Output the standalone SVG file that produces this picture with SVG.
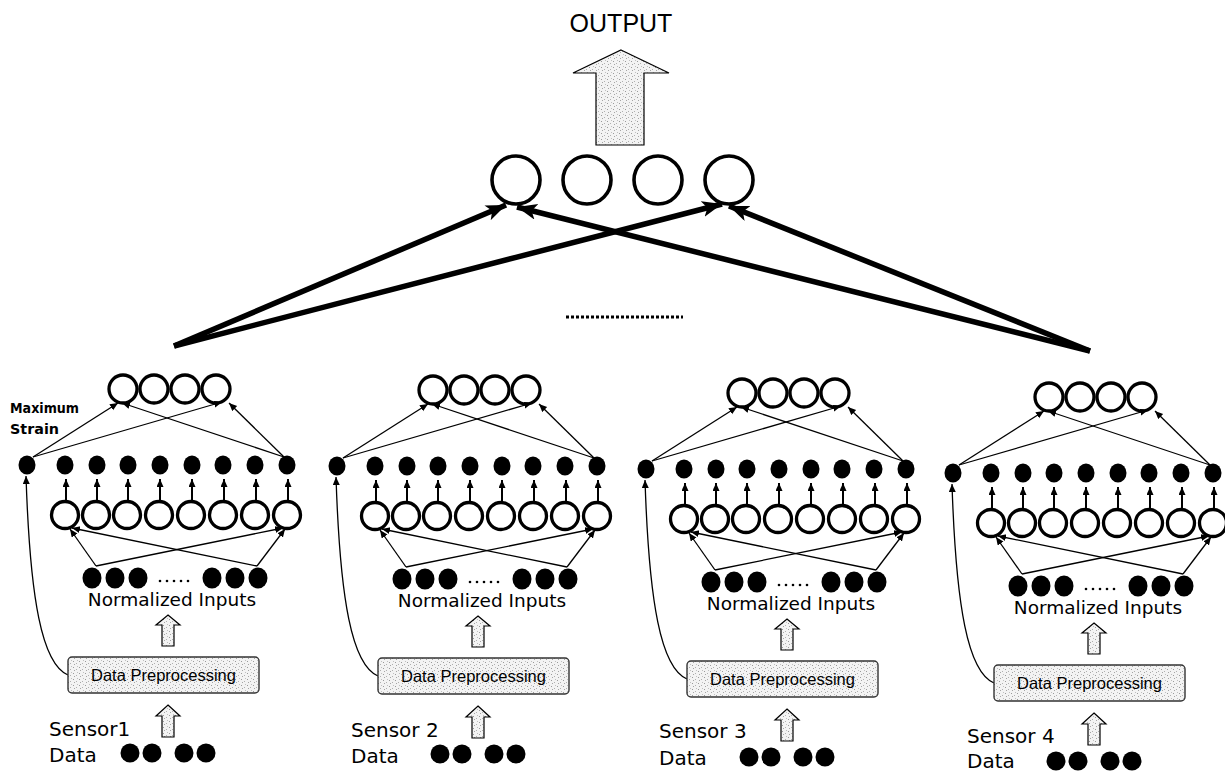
<svg xmlns="http://www.w3.org/2000/svg" xmlns:xlink="http://www.w3.org/1999/xlink" width="1225" height="772" viewBox="0 0 1225 772">
  <style>
    .ring { fill: #fff; stroke: #000; stroke-width: 3.3; }
    .ring-big { fill: #fff; stroke: #000; stroke-width: 3.6; }
    .dot { fill: #000; }
    .thin { stroke: #000; stroke-width: 1.3; fill: none; }
    .stem { stroke: #000; stroke-width: 2; fill: none; }
    .heavy { stroke: #000; stroke-width: 5.5; fill: none; stroke-linecap: butt; }
    .hand { font-family: "DejaVu Sans", "Liberation Sans", sans-serif; fill: #000; }
    .plain { font-family: "Liberation Sans", Arial, sans-serif; fill: #000; }
    .hollow { fill: url(#stipple); stroke: #000; stroke-width: 1.2; }
    .box { fill: url(#stipple); stroke: #333; stroke-width: 1.4; }
  </style>
  <defs>
    <pattern id="stipple" width="6" height="6" patternUnits="userSpaceOnUse">
      <rect width="6" height="6" fill="#f3f3f3"/>
      <rect x="1" y="1" width="1" height="1" fill="#9a9a9a"/>
      <rect x="4" y="3" width="1" height="1" fill="#b0b0b0"/>
      <rect x="2" y="4" width="1" height="1" fill="#a5a5a5"/>
      <rect x="5" y="0" width="1" height="1" fill="#c0c0c0"/>
    </pattern>
    <marker id="head-big" markerUnits="userSpaceOnUse" markerWidth="22" markerHeight="18" refX="20" refY="8" orient="auto">
      <path d="M0,0 L20,8 L0,16 L5,8 Z" fill="#000"/>
    </marker>
    <marker id="head-small" markerUnits="userSpaceOnUse" markerWidth="9" markerHeight="8" refX="8" refY="3.5" orient="auto">
      <path d="M0,0 L8,3.5 L0,7 Z" fill="#000"/>
    </marker>

    <!-- one sensor network: input layer, hidden layers, local outputs, preprocessing -->
    <g id="sensor-net">
      <!-- local output neurons -->
      <g class="layer-out">
        <circle class="ring" cx="123" cy="389" r="14"/>
        <circle class="ring" cx="154" cy="389" r="14"/>
        <circle class="ring" cx="185" cy="389" r="14"/>
        <circle class="ring" cx="216" cy="389" r="14"/>
      </g>
      <!-- activated hidden units (first one carries maximum strain) -->
      <g class="layer-act">
        <ellipse class="dot" cx="27" cy="465" rx="8.5" ry="9.5"/>
        <ellipse class="dot" cx="65" cy="465" rx="8.5" ry="9.5"/>
        <ellipse class="dot" cx="97" cy="465" rx="8.5" ry="9.5"/>
        <ellipse class="dot" cx="128" cy="465" rx="8.5" ry="9.5"/>
        <ellipse class="dot" cx="160" cy="465" rx="8.5" ry="9.5"/>
        <ellipse class="dot" cx="192" cy="465" rx="8.5" ry="9.5"/>
        <ellipse class="dot" cx="223" cy="465" rx="8.5" ry="9.5"/>
        <ellipse class="dot" cx="255" cy="465" rx="8.5" ry="9.5"/>
        <ellipse class="dot" cx="287" cy="465" rx="8.5" ry="9.5"/>
      </g>
      <!-- hidden neurons -->
      <g class="layer-hidden">
        <circle class="ring" cx="65" cy="515" r="13.5"/>
        <circle class="ring" cx="96" cy="515" r="13.5"/>
        <circle class="ring" cx="127" cy="515" r="13.5"/>
        <circle class="ring" cx="159" cy="515" r="13.5"/>
        <circle class="ring" cx="191" cy="515" r="13.5"/>
        <circle class="ring" cx="223" cy="515" r="13.5"/>
        <circle class="ring" cx="255" cy="515" r="13.5"/>
        <circle class="ring" cx="287" cy="515" r="13.5"/>
      </g>
      <!-- normalized input units -->
      <g class="layer-in">
        <ellipse class="dot" cx="92" cy="578" rx="9.5" ry="10.5"/>
        <ellipse class="dot" cx="115" cy="578" rx="9.5" ry="10.5"/>
        <ellipse class="dot" cx="138" cy="578" rx="9.5" ry="10.5"/>
        <circle class="dot" cx="160" cy="581" r="1.3"/>
        <circle class="dot" cx="167" cy="581" r="1.3"/>
        <circle class="dot" cx="174" cy="581" r="1.3"/>
        <circle class="dot" cx="181" cy="581" r="1.3"/>
        <circle class="dot" cx="188" cy="581" r="1.3"/>
        <ellipse class="dot" cx="212" cy="578" rx="9.5" ry="10.5"/>
        <ellipse class="dot" cx="235" cy="578" rx="9.5" ry="10.5"/>
        <ellipse class="dot" cx="258" cy="578" rx="9.5" ry="10.5"/>
      </g>
      <!-- local connectors -->
      <g class="links">
        <line class="thin" x1="33" y1="457" x2="118" y2="403" marker-end="url(#head-small)"/>
        <line class="thin" x1="33" y1="457" x2="222" y2="402" marker-end="url(#head-small)"/>
        <line class="thin" x1="284" y1="457" x2="122" y2="403" marker-end="url(#head-small)"/>
        <line class="thin" x1="284" y1="457" x2="229" y2="403" marker-end="url(#head-small)"/>
        <line class="stem" x1="66" y1="502" x2="66" y2="479" marker-end="url(#head-small)"/>
        <line class="stem" x1="97" y1="502" x2="97" y2="479" marker-end="url(#head-small)"/>
        <line class="stem" x1="128" y1="502" x2="128" y2="479" marker-end="url(#head-small)"/>
        <line class="stem" x1="160" y1="502" x2="160" y2="479" marker-end="url(#head-small)"/>
        <line class="stem" x1="192" y1="502" x2="192" y2="479" marker-end="url(#head-small)"/>
        <line class="stem" x1="224" y1="502" x2="224" y2="479" marker-end="url(#head-small)"/>
        <line class="stem" x1="256" y1="502" x2="256" y2="479" marker-end="url(#head-small)"/>
        <line class="stem" x1="288" y1="502" x2="288" y2="479" marker-end="url(#head-small)"/>
        <line class="thin" x1="96" y1="566" x2="70" y2="529" marker-end="url(#head-small)"/>
        <line class="thin" x1="96" y1="566" x2="283" y2="528" marker-end="url(#head-small)"/>
        <line class="thin" x1="257" y1="566" x2="72" y2="528" marker-end="url(#head-small)"/>
        <line class="thin" x1="257" y1="566" x2="285" y2="529" marker-end="url(#head-small)"/>
        <path class="thin" d="M68,675 C42,664 30,600 26,476" marker-end="url(#head-small)"/>
      </g>
      <text class="hand" x="172" y="606" font-size="18.5" text-anchor="middle">Normalized Inputs</text>
      <path class="hollow" d="M168,615 L180,625 L174,625 L174,646 L162,646 L162,625 L156,625 Z"/>
      <rect class="box" x="68" y="657" width="191" height="36" rx="4"/>
      <text class="plain" x="163.5" y="681" font-size="16.5" text-anchor="middle">Data Preprocessing</text>
      <path class="hollow" d="M168,705 L180,716 L174,716 L174,737 L162,737 L162,716 L156,716 Z"/>
      <!-- raw sensor samples -->
      <circle class="dot" cx="130" cy="753" r="9.5"/>
      <circle class="dot" cx="152" cy="753" r="9.5"/>
      <circle class="dot" cx="184" cy="753" r="9.5"/>
      <circle class="dot" cx="206" cy="753" r="9.5"/>
    </g>
  </defs>

  <rect width="1225" height="772" fill="#fff"/>

  <!-- fused output layer -->
  <g id="output">
    <text class="plain" x="621" y="32" font-size="25" text-anchor="middle">OUTPUT</text>
    <path class="hollow" d="M621,50 L669,73 L644,73 L644,145 L596,145 L596,73 L573,73 Z"/>
  </g>
  <g id="fusion-1"><circle class="ring-big" cx="516" cy="180" r="24"/></g>
  <g id="fusion-2"><circle class="ring-big" cx="587" cy="180" r="24"/></g>
  <g id="fusion-3"><circle class="ring-big" cx="658" cy="180" r="24"/></g>
  <g id="fusion-4"><circle class="ring-big" cx="729" cy="180" r="24"/></g>

  <!-- connectors from the sensor networks to the fused layer -->
  <g id="connectors">
    <line class="heavy" x1="174" y1="346" x2="506" y2="205" marker-end="url(#head-big)"/>
    <line class="heavy" x1="174" y1="346" x2="722" y2="204" marker-end="url(#head-big)"/>
    <line class="heavy" x1="1090" y1="351" x2="517" y2="207" marker-end="url(#head-big)"/>
    <line class="heavy" x1="1090" y1="351" x2="729" y2="206" marker-end="url(#head-big)"/>
    <line x1="566" y1="317" x2="683" y2="317" stroke="#000" stroke-width="3" stroke-dasharray="3,2"/>
  </g>

  <!-- sensor networks -->
  <g id="sensor-1">
    <use xlink:href="#sensor-net" href="#sensor-net"/>
    <text class="hand" x="10" y="413" font-size="14.5" font-weight="bold" textLength="69" lengthAdjust="spacingAndGlyphs">Maximum</text>
    <text class="hand" x="10" y="434" font-size="14.5" font-weight="bold" textLength="49" lengthAdjust="spacingAndGlyphs">Strain</text>
    <text class="hand" x="49" y="736" font-size="20">Sensor1</text>
    <text class="hand" x="49" y="762" font-size="20">Data</text>
  </g>
  <g id="sensor-2">
    <use xlink:href="#sensor-net" href="#sensor-net" transform="translate(310,1)"/>
    <text class="hand" x="351" y="737" font-size="20">Sensor 2</text>
    <text class="hand" x="351" y="763" font-size="20">Data</text>
  </g>
  <g id="sensor-3">
    <use xlink:href="#sensor-net" href="#sensor-net" transform="translate(619,4)"/>
    <text class="hand" x="659" y="738" font-size="20">Sensor 3</text>
    <text class="hand" x="659" y="765" font-size="20">Data</text>
  </g>
  <g id="sensor-4">
    <use xlink:href="#sensor-net" href="#sensor-net" transform="translate(926,8)"/>
    <text class="hand" x="967" y="743" font-size="20">Sensor 4</text>
    <text class="hand" x="967" y="768" font-size="20">Data</text>
  </g>
</svg>
